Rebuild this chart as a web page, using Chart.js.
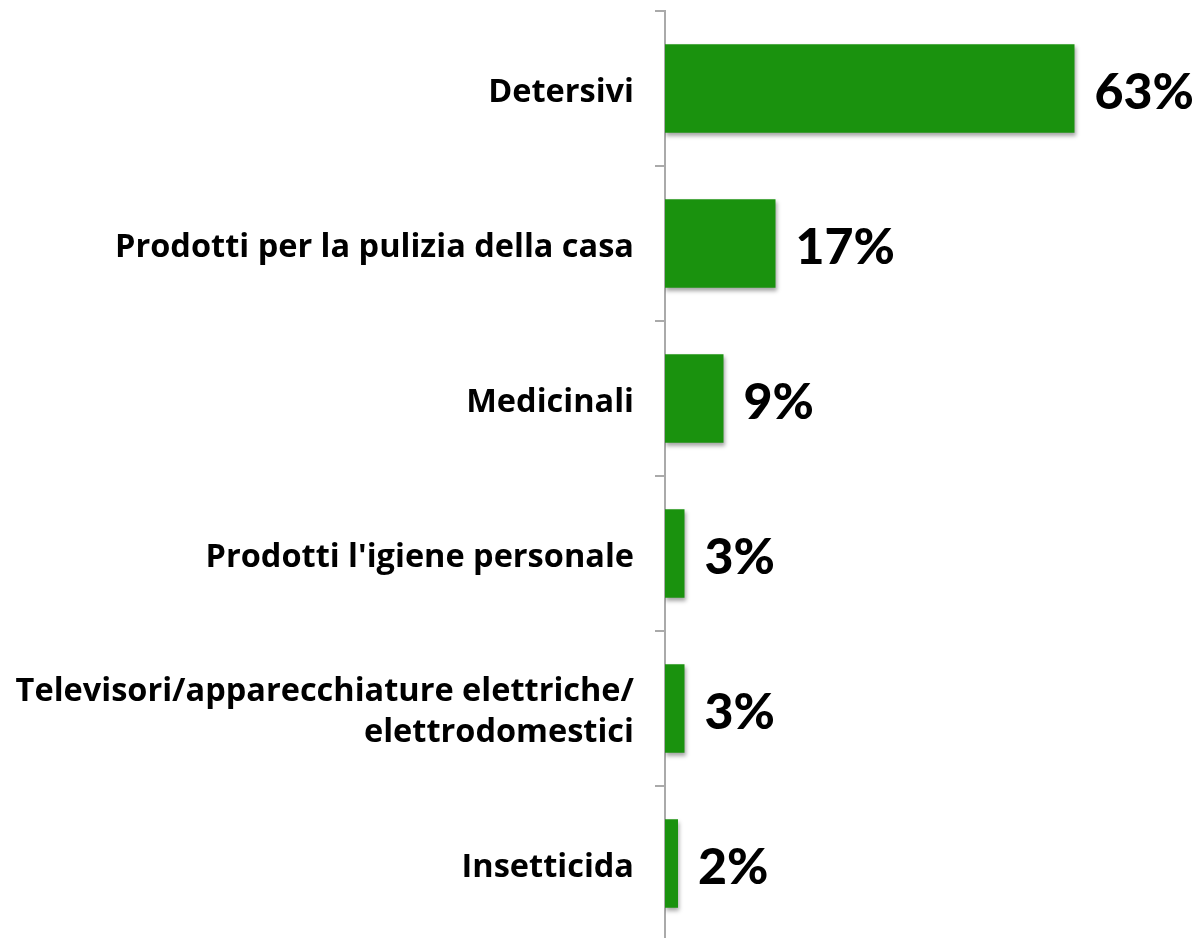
<!DOCTYPE html>
<html>
<head>
<meta charset="utf-8">
<script src="https://cdn.jsdelivr.net/npm/chart.js@4"></script>
<style>
    html, body { margin: 0; padding: 0; background: #fff; overflow: hidden; }
    #wrap { width: 1198px; height: 942px; position: relative; }
</style>
</head>
<body>
<div id="wrap"><canvas id="productChart"></canvas></div>
<script>
/* ========================================================================
   Categorie di prodotti – bar chart orizzontale
   ======================================================================== */

const categories = [
    'Detersivi',
    'Prodotti per la pulizia della casa',
    'Medicinali',
    "Prodotti l'igiene personale",
    ['Televisori/apparecchiature elettriche/', 'elettrodomestici'],
    'Insetticida'
];
const shares = [63, 17, 9, 3, 3, 2];
const xMax = 82;

const barShadow = {
    id: 'barShadow',
    beforeDatasetsDraw(chart) {
        const ctx = chart.ctx;
        ctx.save();
        ctx.shadowColor = 'rgba(0,0,0,0.35)';
        ctx.shadowBlur = 4;
        ctx.shadowOffsetX = 1;
        ctx.shadowOffsetY = 3;
    },
    afterDatasetsDraw(chart) {
        chart.ctx.restore();
    }
};

const valueLabels = {
    id: 'valueLabels',
    afterDraw(chart) {
        const ctx = chart.ctx;
        const meta = chart.getDatasetMeta(0);
        ctx.save();
        ctx.fillStyle = '#000';
        ctx.font = '900 50px Lato, Roboto, sans-serif';
        ctx.textBaseline = 'middle';
        ctx.textAlign = 'left';
        meta.data.forEach((bar, i) => {
            ctx.fillText(shares[i] + '%', bar.x + 20, bar.y + 4);
        });
        ctx.restore();
    }
};

new Chart(document.getElementById('productChart'), {
    type: 'bar',
    data: {
        labels: categories,
        datasets: [{
            data: shares,
            backgroundColor: '#1a920e',
            borderWidth: 0,
            barPercentage: 0.57,
            categoryPercentage: 1
        }]
    },
    options: {
        indexAxis: 'y',
        responsive: true,
        maintainAspectRatio: false,
        animation: false,
        layout: { padding: { top: 11, right: 0, bottom: 1, left: 0 } },
        plugins: { legend: { display: false }, tooltip: { enabled: false } },
        scales: {
            x: { display: false, min: 0, max: xMax },
            y: {
                afterFit: s => { s.width = 665; s.paddingTop = 0; s.paddingBottom = 0; },
                border: { color: '#aaaaaa', width: 2 },
                grid: { drawOnChartArea: false, color: '#aaaaaa', lineWidth: 2, tickLength: 10, offset: true },
                ticks: {
                    padding: 21,
                    labelOffset: 4,
                    color: '#000',
                    font: { family: '"Open Sans", Lato, sans-serif', size: 32.5, weight: 'bold', lineHeight: 1.26 }
                }
            }
        }
    },
    plugins: [barShadow, valueLabels]
});
</script>
</body>
</html>
